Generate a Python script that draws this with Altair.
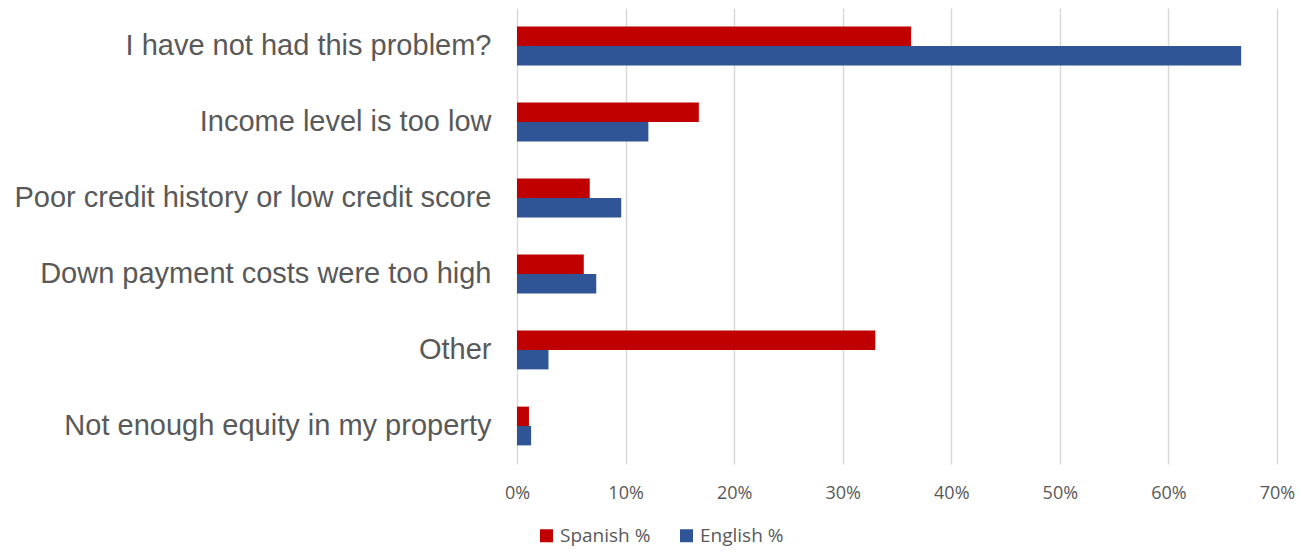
import altair as alt
import pandas as pd

categories = [
    "I have not had this problem?",
    "Income level is too low",
    "Poor credit history or low credit score",
    "Down payment costs were too high",
    "Other",
    "Not enough equity in my property",
]
spanish = [36.3, 16.75, 6.7, 6.15, 33.0, 1.1]
english = [66.7, 12.1, 9.6, 7.3, 2.9, 1.3]
series = ["Spanish %", "English %"]
colors = ["#C00000", "#2F5597"]

rows = []
for c, s, e in zip(categories, spanish, english):
    rows.append({"cat": c, "series": series[0], "val": s / 100})
    rows.append({"cat": c, "series": series[1], "val": e / 100})
df = pd.DataFrame(rows)

chart = alt.Chart(df).mark_bar().encode(
    y=alt.Y("cat:N", sort=categories, title=None,
            scale=alt.Scale(paddingInner=0.49, paddingOuter=0.245),
            axis=alt.Axis(labelFontSize=29, labelColor="#595959", labelFont="Liberation Sans",
                          ticks=False, domain=False, labelPadding=26, labelLimit=600)),
    yOffset=alt.YOffset("series:N", sort=series),
    x=alt.X("val:Q", title=None,
            scale=alt.Scale(domain=[0, 0.7], nice=False),
            axis=alt.Axis(format=".0%", values=[0, 0.1, 0.2, 0.3, 0.4, 0.5, 0.6, 0.7],
                          labelFontSize=18, labelColor="#595959", labelFont="Open Sans",
                          labelFlush=False,
                          ticks=False, domain=False, labelPadding=20,
                          grid=True, gridColor="#D9D9D9", gridWidth=1.5)),
    color=alt.Color("series:N", sort=series,
                    scale=alt.Scale(domain=series, range=colors),
                    legend=alt.Legend(title=None, orient="none", direction="horizontal",
                                      legendX=20, legendY=518, symbolType="square",
                                      symbolSize=169, symbolStrokeWidth=0,
                                      labelFontSize=19, labelColor="#595959",
                                      labelFont="Open Sans", columnPadding=26,
                                      labelOffset=4)),
).properties(
    width=760, height=456,
    autosize=alt.AutoSizeParams(type="none"),
    padding={"left": 509, "top": 0, "right": 22, "bottom": 86},
).configure_view(stroke=None)

chart.save("out.html", embed_options={"renderer": "svg", "actions": False})
